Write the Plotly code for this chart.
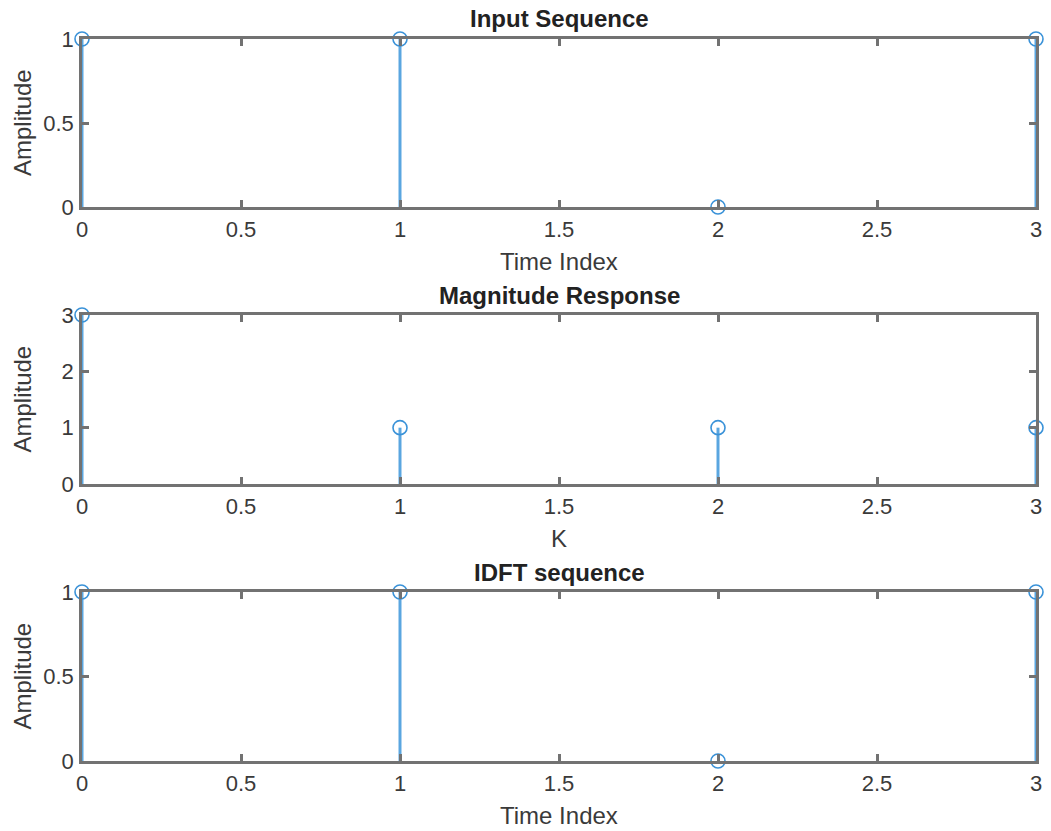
import plotly.graph_objects as go

# Sample indices and sequences
n = [0, 1, 2, 3]
input_seq = [1, 1, 0, 1]
magnitude = [3, 1, 1, 1]
idft_seq = [1, 1, 0, 1]

x_ticks = [0, 0.5, 1, 1.5, 2, 2.5, 3]
x_tick_text = ["0", "0.5", "1", "1.5", "2", "2.5", "3"]

W, H = 1051, 831
X0, X1 = 82, 1036  # plot area left/right in px

panels = [
    dict(title="Input Sequence", xlabel="Time Index", y=input_seq,
         yrange=[0, 1], yticks=[0, 0.5, 1], yticktext=["0", "0.5", "1"],
         top=39, bottom=207),
    dict(title="Magnitude Response", xlabel="K", y=magnitude,
         yrange=[0, 3], yticks=[0, 1, 2, 3], yticktext=["0", "1", "2", "3"],
         top=315, bottom=484),
    dict(title="IDFT sequence", xlabel="Time Index", y=idft_seq,
         yrange=[0, 1], yticks=[0, 0.5, 1], yticktext=["0", "0.5", "1"],
         top=592, bottom=761),
]

STEM = "#5aa6e0"
MARK = "#3a92d8"
AXC = "#727272"
TXT = "#3a3a3a"
FONT = "Liberation Sans, Arial, sans-serif"


def py(px):
    return 1 - px / H


fig = go.Figure()
layout = dict(
    width=W, height=H,
    margin=dict(l=0, r=0, t=0, b=0),
    paper_bgcolor="white", plot_bgcolor="white",
    showlegend=False,
    font=dict(family=FONT, size=22, color=TXT),
    annotations=[],
)

for i, p in enumerate(panels):
    k = "" if i == 0 else str(i + 1)
    xa, ya = "x" + k, "y" + k
    # stems: vertical segments from zero to each value
    sx, sy = [], []
    for xv, yv in zip(n, p["y"]):
        sx += [xv, xv, None]
        sy += [0, yv, None]
    fig.add_trace(go.Scatter(x=sx, y=sy, mode="lines", xaxis=xa, yaxis=ya,
                             line=dict(color=STEM, width=3), hoverinfo="skip",
                             cliponaxis=False))
    fig.add_trace(go.Scatter(x=n, y=p["y"], mode="markers", xaxis=xa, yaxis=ya,
                             marker=dict(symbol="circle-open", size=14,
                                         color=MARK, line=dict(width=1.6)),
                             cliponaxis=False))
    common = dict(showline=True, linecolor=AXC, linewidth=2.5, mirror="ticks",
                  ticks="inside", ticklen=7, tickwidth=2.5, tickcolor=AXC,
                  showgrid=False, zeroline=False, automargin=False,
                  tickfont=dict(family=FONT, size=22, color=TXT))
    layout["xaxis" + k] = dict(common, domain=[X0 / W, X1 / W], range=[0, 3],
                               tickvals=x_ticks, ticktext=x_tick_text,
                               anchor=ya, ticklabelstandoff=1)
    layout["yaxis" + k] = dict(common, domain=[py(p["bottom"]), py(p["top"])],
                               range=p["yrange"],
                               tickvals=p["yticks"], ticktext=p["yticktext"],
                               anchor=xa, ticklabelstandoff=1)
    mid_x = (X0 + X1) / 2 / W
    # subplot title
    layout["annotations"].append(dict(
        text="<b>" + p["title"] + "</b>", x=mid_x, xref="paper",
        y=py(p["top"] - 20), yref="paper", xanchor="center", yanchor="middle",
        showarrow=False, font=dict(family=FONT, size=24, color="#222222")))
    # x-axis label
    layout["annotations"].append(dict(
        text=p["xlabel"], x=mid_x, xref="paper",
        y=py(p["bottom"] + 54), yref="paper", xanchor="center", yanchor="middle",
        showarrow=False, font=dict(family=FONT, size=24, color=TXT)))
    # y-axis label
    layout["annotations"].append(dict(
        text="Amplitude", x=22 / W, xref="paper", textangle=-90,
        y=py((p["top"] + p["bottom"]) / 2), yref="paper",
        xanchor="center", yanchor="middle",
        showarrow=False, font=dict(family=FONT, size=24, color=TXT)))

fig.update_layout(**layout)
fig.write_html("out.html")
